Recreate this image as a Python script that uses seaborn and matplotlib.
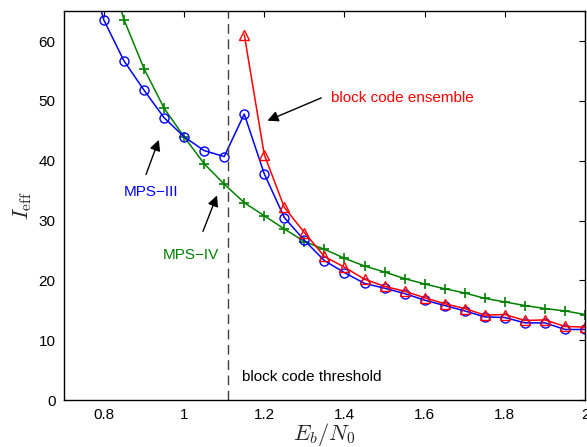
import numpy as np
import matplotlib
matplotlib.use("Agg")
import matplotlib.pyplot as plt
import seaborn as sns
import pandas as pd

# ---- data ----
x_mps3 = [0.75, 0.80, 0.85, 0.90, 0.95, 1.00, 1.05, 1.10, 1.15, 1.20, 1.25, 1.30, 1.35,
          1.40, 1.45, 1.50, 1.55, 1.60, 1.65, 1.70, 1.75, 1.80, 1.85, 1.90, 1.95, 2.00]
mps3 = [75.0, 63.5, 56.7, 51.8, 47.2, 44.0, 41.7, 40.7, 47.8, 37.8, 30.5, 26.7, 23.3,
        21.3, 19.5, 18.7, 17.8, 16.7, 15.8, 14.9, 13.9, 13.8, 12.9, 12.9, 11.8, 11.8]

x_mps4 = [0.80, 0.85, 0.90, 0.95, 1.00, 1.05, 1.10, 1.15, 1.20, 1.25, 1.30, 1.35,
          1.40, 1.45, 1.50, 1.55, 1.60, 1.65, 1.70, 1.75, 1.80, 1.85, 1.90, 1.95, 2.00]
mps4 = [75.0, 63.6, 55.4, 48.8, 44.0, 39.5, 36.1, 33.0, 30.8, 28.6, 26.5, 25.2,
        23.7, 22.4, 21.4, 20.3, 19.4, 18.6, 17.9, 17.0, 16.4, 15.8, 15.3, 14.9, 14.3]

x_ens = [1.15, 1.20, 1.25, 1.30, 1.35, 1.40, 1.45, 1.50, 1.55, 1.60, 1.65, 1.70,
         1.75, 1.80, 1.85, 1.90, 1.95, 2.00]
ens = [61.1, 41.0, 32.2, 28.0, 24.0, 22.2, 20.2, 19.0, 18.2, 17.1, 16.1, 15.3,
       14.2, 14.3, 13.3, 13.4, 12.3, 12.2]

threshold = 1.11
x_ticks = [0.8, 1.0, 1.2, 1.4, 1.6, 1.8, 2.0]
x_ticklabels = ["0.8", "1", "1.2", "1.4", "1.6", "1.8", "2"]
y_ticks = [0, 10, 20, 30, 40, 50, 60]

# ---- style ----
sns.set_theme(style="white")
plt.rcParams['font.family'] = ['Liberation Sans', 'DejaVu Sans']
plt.rcParams['mathtext.fontset'] = 'cm'

fig = plt.figure(figsize=(5.87, 4.47), dpi=100)
ax = fig.add_axes([0.1087, 0.105, 0.888, 0.870])

df3 = pd.DataFrame({"x": x_mps3, "y": mps3})
df4 = pd.DataFrame({"x": x_mps4, "y": mps4})
dfe = pd.DataFrame({"x": x_ens, "y": ens})

sns.lineplot(data=df4, x="x", y="y", ax=ax, color=(0, 0.5, 0), lw=1.1,
             marker='+', markersize=7, markeredgewidth=1.2, markeredgecolor=(0, 0.5, 0))
sns.lineplot(data=df3, x="x", y="y", ax=ax, color='blue', lw=1.1,
             marker='o', markersize=6.5, markerfacecolor='none',
             markeredgecolor='blue', markeredgewidth=1.0)
sns.lineplot(data=dfe, x="x", y="y", ax=ax, color='red', lw=1.1,
             marker='^', markersize=7, markerfacecolor='none',
             markeredgecolor='red', markeredgewidth=1.0)

ax.axvline(threshold, color='#404040', lw=1.0, ls=(0, (7, 4)))

ax.set_xlim(0.7, 2.0)
ax.set_ylim(0, 65)
ax.set_xticks(x_ticks)
ax.set_xticklabels(x_ticklabels)
ax.set_yticks(y_ticks)
ax.tick_params(direction='in', top=True, right=True, length=4, width=0.8,
               labelsize=11, colors='black', pad=6)
for s in ax.spines.values():
    s.set_color('black')
    s.set_linewidth(1.0)

ax.set_xlabel(r"$E_b/N_0$", fontsize=16, labelpad=-1)
ax.set_ylabel(r"$I_{\rm eff}$", fontsize=16, labelpad=3)

# annotations
ax.text(1.145, 3.8, "block code threshold", fontsize=11, color='black',
        ha='left', va='center')
ax.text(1.367, 50.5, "block code ensemble", fontsize=11, color='red',
        ha='left', va='center')
ax.text(0.85, 34.8, "MPS\u2212III", fontsize=11, color='blue',
        ha='left', va='center')
ax.text(0.946, 24.2, "MPS\u2212IV", fontsize=11, color=(0, 0.5, 0),
        ha='left', va='center')

arrow = dict(arrowstyle='-|>', color='black', lw=1.0, mutation_scale=16,
             shrinkA=0, shrinkB=0)
ax.annotate("", xy=(1.208, 46.7), xytext=(1.342, 50.5), arrowprops=arrow)
ax.annotate("", xy=(0.937, 43.5), xytext=(0.905, 37.7), arrowprops=arrow)
ax.annotate("", xy=(1.082, 34.2), xytext=(1.047, 28.2), arrowprops=arrow)

fig.savefig("out.png", dpi=100)
